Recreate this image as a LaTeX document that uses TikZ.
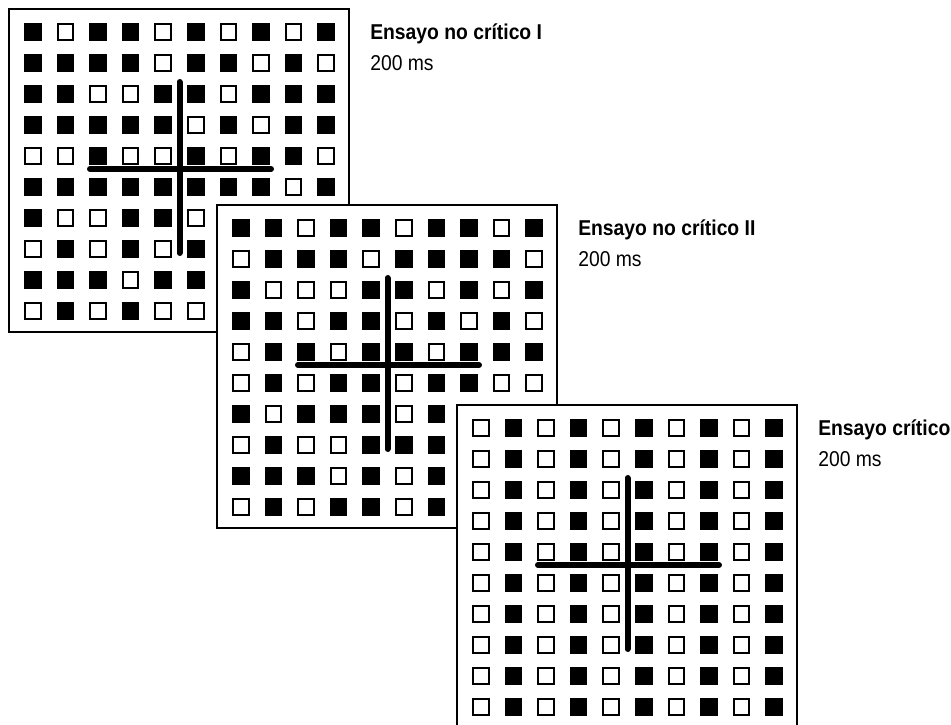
\documentclass[tikz,border=0pt]{standalone}
\usepackage{fontspec}
\setmainfont{Liberation Sans}[FakeStretch=0.9]
\usetikzlibrary{positioning}
\tikzset{
  panel/.style={draw=black,fill=white,line width=1.1pt},
  fullsq/.style={fill=black},
  emptysq/.style={draw=black,line width=1.5pt},
  fixbar/.style={line width=4.5pt,line cap=round},
  trialname/.style={anchor=base west,inner sep=0pt,font=\fontsize{16.1}{20}\selectfont\bfseries},
  trialtime/.style={anchor=base west,inner sep=0pt,font=\fontsize{16.1}{20}\selectfont},
}
% #1 name, #2 shift, #3 label, #4 rows of squares (1 = filled)
\newcommand{\trialpanel}[4]{%
  \begin{scope}[shift={#2}]
    \draw[panel] (0,0) rectangle (340,323);
    \foreach \row [count=\i from 0] in {#4} {
      \foreach \v [count=\j from 0] in \row {
        \ifnum\v=1
          \fill[fullsq] ({15+32.6*\j},{14+31*\i}) rectangle ++(17.5,17.5);
        \else
          \draw[emptysq] ({16+32.6*\j},{15+31*\i}) rectangle ++(15.5,15.5);
        \fi
      }
    }
    % fixation cross
    \draw[fixbar] (81,160) -- (262,160);
    \draw[fixbar] (170.5,73) -- (170.5,244);
    \node[trialname] (#1name) at (361,30) {#3};
    \node[trialtime] (#1time) at (361,61) {200 ms};
  \end{scope}}

\begin{document}
\begin{tikzpicture}[x=0.75pt,y=-0.75pt]
  \useasboundingbox (0,0) rectangle (951,725);
  \trialpanel{one}{(9,9)}{Ensayo no crítico I}{
    {1,0,1,1,0,1,0,1,0,1},{1,1,1,1,0,1,1,0,1,0},{1,1,0,0,1,1,0,1,1,1},
    {1,1,1,1,1,0,1,0,1,1},{0,0,1,0,0,1,0,1,1,0},{1,1,1,1,1,1,1,1,0,1},
    {1,0,0,1,1,0,0,0,0,0},{0,1,0,1,0,1,0,0,0,0},{1,1,1,0,1,1,0,0,0,0},
    {0,1,0,1,0,0,0,0,0,0}}
  \trialpanel{two}{(217,205)}{Ensayo no crítico II}{
    {1,1,0,1,1,0,1,1,0,1},{0,1,1,1,0,1,1,1,1,0},{1,0,0,0,1,1,0,1,0,1},
    {1,1,0,1,1,0,1,0,1,0},{0,1,1,0,1,1,0,1,1,1},{0,1,0,1,1,0,1,1,0,0},
    {1,0,1,1,1,0,1,0,0,0},{0,1,0,0,1,1,1,0,0,0},{1,1,1,0,1,0,1,0,0,0},
    {0,1,0,1,1,0,1,0,0,0}}
  \trialpanel{three}{(457,405)}{Ensayo crítico}{
    {0,1,0,1,0,1,0,1,0,1},{0,1,0,1,0,1,0,1,0,1},{0,1,0,1,0,1,0,1,0,1},
    {0,1,0,1,0,1,0,1,0,1},{0,1,0,1,0,1,0,1,0,1},{0,1,0,1,0,1,0,1,0,1},
    {0,1,0,1,0,1,0,1,0,1},{0,1,0,1,0,1,0,1,0,1},{0,1,0,1,0,1,0,1,0,1},
    {0,1,0,1,0,1,0,1,0,1}}
\end{tikzpicture}
\end{document}
